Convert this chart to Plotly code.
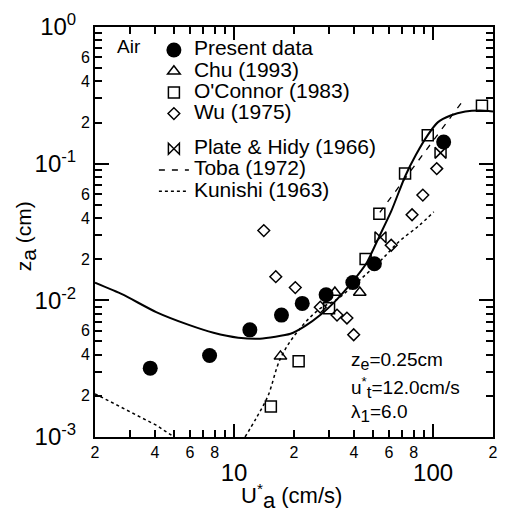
import plotly.graph_objects as go
import numpy as np

# ---------------- data ----------------
present_x = [3.79, 7.53, 12.0, 17.3, 22.0, 29.0, 39.5, 50.7, 113]
present_y = [3.19e-3, 3.95e-3, 6.08e-3, 7.8e-3, 9.5e-3, 0.0110, 0.0135, 0.0185, 0.144]

chu_x = [17.1, 32.1, 42.8]
chu_y = [3.89e-3, 0.01142, 0.01142]

oconnor_x = [15.3, 21.1, 30.0, 45.8, 53.7, 72.3, 94.0, 176]
oconnor_y = [1.67e-3, 3.58e-3, 8.76e-3, 0.0201, 0.0430, 0.0847, 0.1617, 0.2657]

wu_x = [14.1, 16.2, 20.3, 27.1, 32.9, 36.9, 39.9, 61.6, 78.4, 88.8, 104.3]
wu_y = [0.0324, 0.0149, 0.0124, 8.91e-3, 7.80e-3, 7.42e-3, 5.60e-3, 0.0253, 0.0423, 0.0589, 0.0920]

plate_x = [54.4, 109]
plate_y = [0.0289, 0.120]

toba_x = [54.0, 139.0]
toba_y = [0.044, 0.28]

kunishi_lo_x = [2.0, 2.75, 4.06, 5.0]
kunishi_lo_y = [2.07e-3, 1.64e-3, 1.22e-3, 1.0e-3]

kunishi_hi_x = [11.35, 12.9, 14.8, 17.1, 20.8, 26.8, 32.9, 41.3, 53.7, 67.6, 84.9, 100.8]
kunishi_hi_y = [1.0e-3, 1.37e-3, 2.0e-3, 3.76e-3, 5.89e-3, 8.62e-3, 0.01017, 0.01346, 0.0191, 0.0270, 0.0352, 0.0444]

model_x = [2.0, 2.75, 4.06, 5.92, 7.88, 10.49, 13.49, 19.2, 22.8, 27.1, 32.9, 39.0,
           46.3, 53.7, 61.7, 72.3, 82.0, 94.0, 105.5, 122.4, 145.2, 172.4, 200]
model_y = [0.01346, 0.01104, 8.20e-3, 6.61e-3, 5.79e-3, 5.33e-3, 5.24e-3, 5.69e-3, 6.50e-3,
           7.80e-3, 0.01017, 0.01346, 0.01876, 0.0294, 0.0451, 0.0806, 0.1161, 0.1617,
           0.2005, 0.2252, 0.2405, 0.2446, 0.2405]

x_label_vals = [2, 4, 6, 8, 20, 40, 60, 80, 200]
x_label_text = ["2", "4", "6", "8", "2", "4", "6", "8", "2"]
x_minor_vals = [3, 5, 7, 9, 30, 50, 70, 90]
x_major_vals = [10, 100]
x_major_text = ["10", "100"]

y_label_vals = [2e-3, 4e-3, 6e-3, 2e-2, 4e-2, 6e-2, 2e-1, 4e-1, 6e-1]
y_label_text = ["2", "4", "6", "2", "4", "6", "2", "4", "6"]
y_minor_vals = [3e-3, 5e-3, 7e-3, 8e-3, 9e-3, 3e-2, 5e-2, 7e-2, 8e-2, 9e-2,
                3e-1, 5e-1, 7e-1, 8e-1, 9e-1]
y_major_vals = [1e-3, 1e-2, 1e-1, 1]
y_major_text = ["10<sup>-3</sup>", "10<sup>-2</sup>", "10<sup>-1</sup>", "10<sup>0</sup>"]

FONT = "Liberation Sans, Arial, sans-serif"


def lab(s):
    return '<span style="font-size:21px">' + s + '</span>'


def fsub(s, size):
    return '<sub><span style="font-size:%dpx">%s</span></sub>' % (size, s)


fig = go.Figure()

fig.add_trace(go.Scatter(x=model_x, y=model_y, mode="lines", showlegend=False,
                         line=dict(color="black", width=2, shape="spline", smoothing=0.6)))

fig.add_trace(go.Scatter(x=present_x, y=present_y, mode="markers", name=lab("Present data"),
                         legendgroup="a",
                         marker=dict(symbol="circle", size=15, color="black")))
fig.add_trace(go.Scatter(x=chu_x, y=chu_y, mode="markers", name=lab("Chu (1993)"),
                         legendgroup="a",
                         marker=dict(symbol="triangle-up-open", size=11, color="black",
                                     line=dict(width=1.5))))
fig.add_trace(go.Scatter(x=oconnor_x, y=oconnor_y, mode="markers", name=lab("O'Connor (1983)"),
                         legendgroup="a",
                         marker=dict(symbol="square-open", size=11, color="black",
                                     line=dict(width=1.5))))
fig.add_trace(go.Scatter(x=wu_x, y=wu_y, mode="markers", name=lab("Wu (1975)"),
                         legendgroup="a",
                         marker=dict(symbol="diamond-open", size=9, color="black",
                                     line=dict(width=1.5))))
fig.add_trace(go.Scatter(x=plate_x, y=plate_y, mode="markers", name=lab("Plate &amp; Hidy (1966)"),
                         legendgroup="b",
                         marker=dict(symbol="bowtie-open", size=11, color="black",
                                     line=dict(width=1.5))))
fig.add_trace(go.Scatter(x=toba_x, y=toba_y, mode="lines", name=lab("Toba (1972)"),
                         legendgroup="b",
                         line=dict(color="black", width=1.3, dash="6px,7px")))
fig.add_trace(go.Scatter(x=kunishi_hi_x, y=kunishi_hi_y, mode="lines", name=lab("Kunishi (1963)"),
                         legendgroup="b",
                         line=dict(color="black", width=1.5, dash="dot", shape="spline")))
fig.add_trace(go.Scatter(x=kunishi_lo_x, y=kunishi_lo_y, mode="lines", showlegend=False,
                         legendgroup="b",
                         line=dict(color="black", width=1.5, dash="dot")))
# carrier for the overlaid axes (major ticks)
fig.add_trace(go.Scatter(x=[], y=[], xaxis="x2", yaxis="y2", showlegend=False))

xr = [np.log10(2), np.log10(200)]
yr = [-3, 0]

common = dict(type="log", showgrid=False, zeroline=False, ticks="inside",
              tickcolor="black", tickwidth=1.5, mirror="allticks",
              showline=True, linecolor="black", linewidth=2,
              tickmode="array")

fig.update_layout(
    width=508, height=512,
    margin=dict(l=95, r=10, t=20, b=75),
    paper_bgcolor="white", plot_bgcolor="white",
    font=dict(family=FONT, color="black"),
    xaxis=dict(range=xr, tickvals=x_label_vals, ticktext=x_label_text, ticklen=7,
               minor=dict(tickmode="array", tickvals=x_minor_vals, ticks="inside",
                          ticklen=7, tickwidth=1.5, tickcolor="black", showgrid=False),
               tickfont=dict(size=16, family=FONT, color="black"), **common),
    yaxis=dict(range=yr, tickvals=y_label_vals, ticktext=y_label_text, ticklen=7,
               minor=dict(tickmode="array", tickvals=y_minor_vals, ticks="inside",
                          ticklen=7, tickwidth=1.5, tickcolor="black", showgrid=False),
               tickfont=dict(size=16, family=FONT, color="black"), **common),
    xaxis2=dict(range=xr, overlaying="x", anchor="y2", side="bottom",
                tickvals=x_major_vals, ticktext=x_major_text, ticklen=13,
                ticklabelstandoff=13,
                tickfont=dict(size=24, family=FONT, color="black"), **common),
    yaxis2=dict(range=yr, overlaying="y", anchor="x2", side="left",
                tickvals=y_major_vals, ticktext=y_major_text, ticklen=14,
                ticklabelstandoff=12,
                tickfont=dict(size=24, family=FONT, color="black"), **common),
    legend=dict(x=0.148, y=0.982, xanchor="left", yanchor="top",
                bgcolor="rgba(0,0,0,0)", borderwidth=0,
                font=dict(size=14, family=FONT, color="black"),
                tracegroupgap=14, traceorder="grouped"),
    showlegend=True,
)

anns = [
    dict(text="Air", x=115, y=40, size=19),
    dict(text="z" + fsub("e", 16) + "=0.25cm", x=352, y=360, size=19),
    dict(text="u<sup>*</sup>" + fsub("t", 17) + "=12.0cm/s", x=352, y=387, size=19),
    dict(text="\u03bb" + fsub("1", 17) + "=6.0", x=352, y=413, size=19),
]
for a in anns:
    fig.add_annotation(text=a["text"], xref="paper", yref="paper",
                       x=(a["x"] - 95) / 403, y=1 - (a["y"] - 20) / 417,
                       xanchor="left", yanchor="middle", showarrow=False,
                       font=dict(size=a["size"], family=FONT, color="black"))

# axis titles
fig.add_annotation(text="U<sup>*</sup>" + fsub("a", 22) + " (cm/s)", xref="paper", yref="paper",
                   x=(294 - 95) / 403, y=1 - (498 - 20) / 417, xanchor="center", yanchor="middle",
                   showarrow=False, font=dict(size=22, family=FONT, color="black"))
fig.add_annotation(text="z" + fsub("a", 21) + " (cm)", xref="paper", yref="paper",
                   x=(25 - 95) / 403, y=1 - (233 - 20) / 417, xanchor="center", yanchor="middle",
                   textangle=-90, showarrow=False,
                   font=dict(size=21, family=FONT, color="black"))

fig.write_html("out.html")
